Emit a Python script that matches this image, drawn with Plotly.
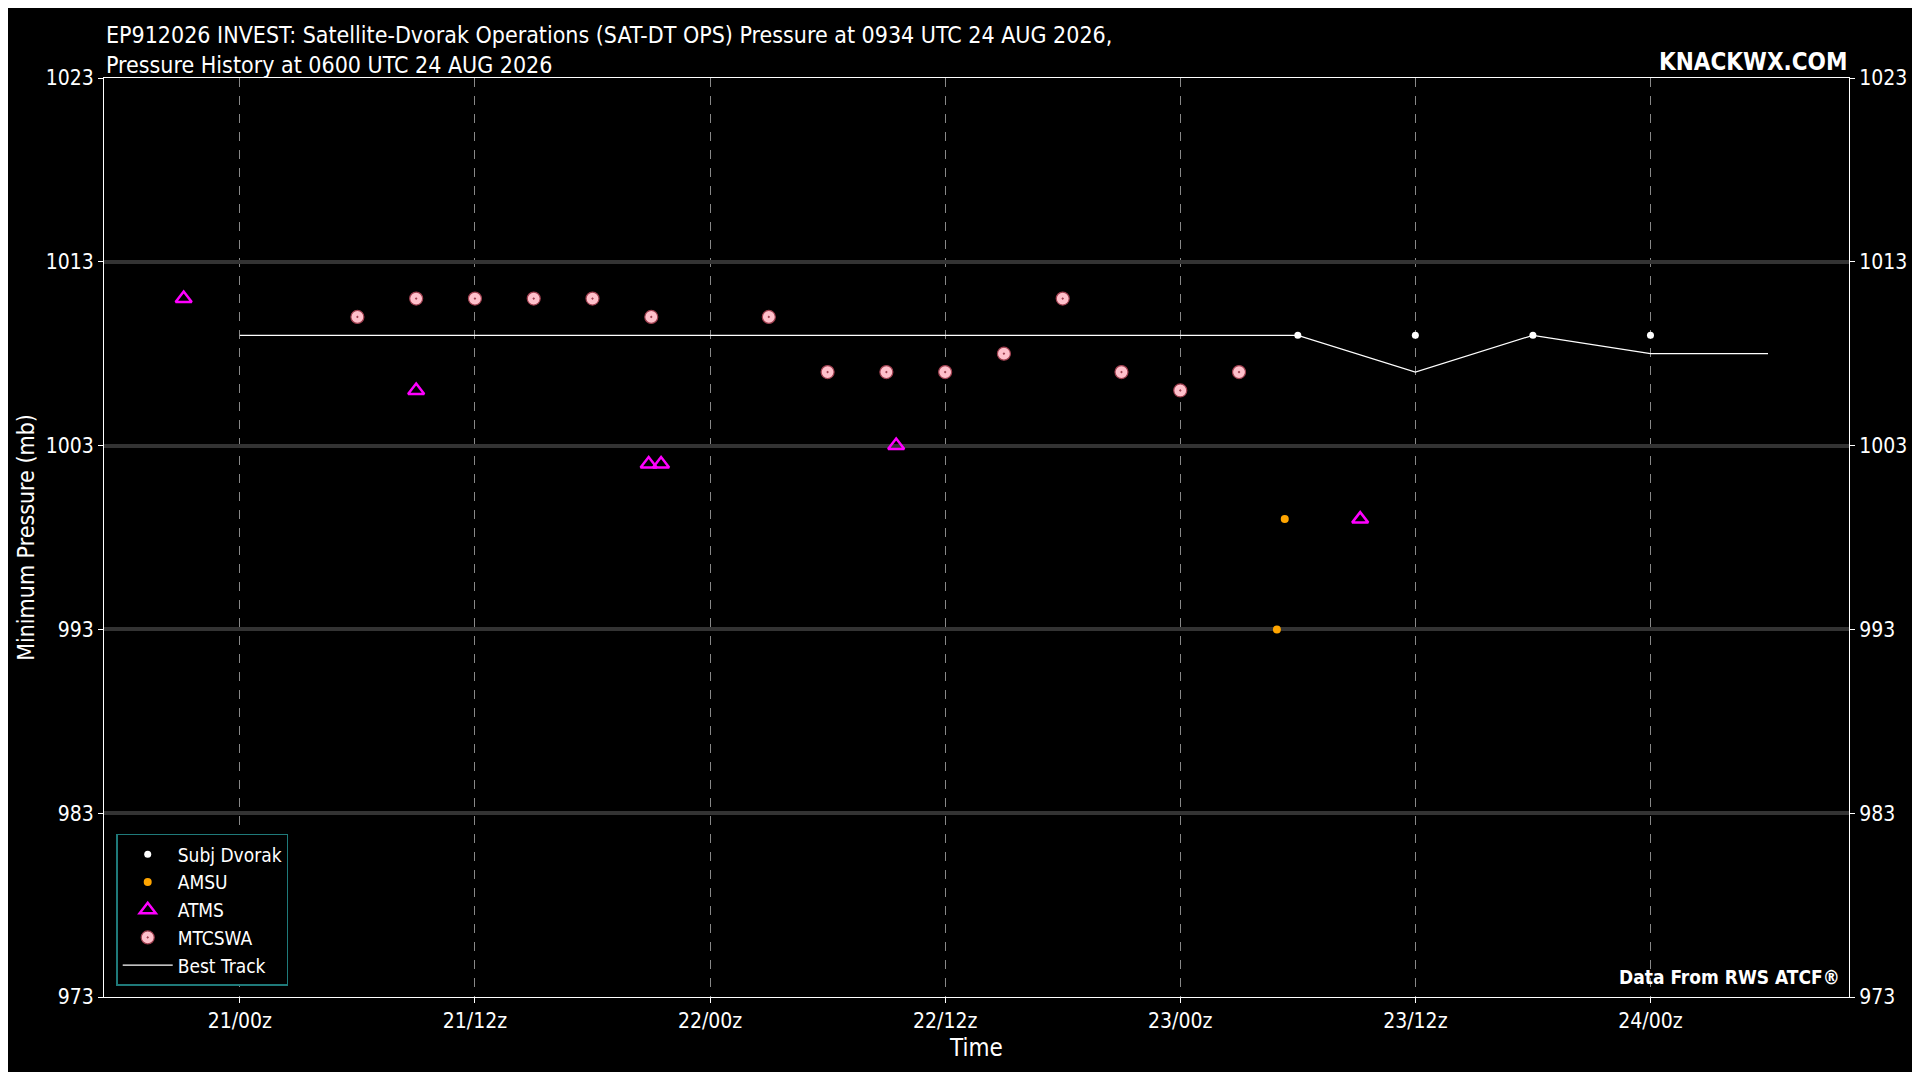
import plotly.graph_objects as go

bt_time = ["2026-08-21 00:00", "2026-08-21 06:00", "2026-08-21 12:00", "2026-08-21 18:00",
           "2026-08-22 00:00", "2026-08-22 06:00", "2026-08-22 12:00", "2026-08-22 18:00",
           "2026-08-23 00:00", "2026-08-23 06:00", "2026-08-23 12:00", "2026-08-23 18:00",
           "2026-08-24 00:00", "2026-08-24 06:00"]
bt_pres = [1009, 1009, 1009, 1009, 1009, 1009, 1009, 1009, 1009, 1009, 1007, 1009, 1008, 1008]

dv_time = ["2026-08-23 06:00", "2026-08-23 12:00", "2026-08-23 18:00", "2026-08-24 00:00"]
dv_pres = [1009, 1009, 1009, 1009]

amsu_time = ["2026-08-23 05:20", "2026-08-23 04:56"]
amsu_pres = [999, 993]

atms_time = ["2026-08-20 21:08", "2026-08-21 09:00", "2026-08-21 20:52", "2026-08-21 21:30",
             "2026-08-22 09:30", "2026-08-23 09:11"]
atms_pres = [1011, 1006, 1002, 1002, 1003, 999]

mtc_time = ["2026-08-21 06:00", "2026-08-21 09:00", "2026-08-21 12:00", "2026-08-21 15:00",
            "2026-08-21 18:00", "2026-08-21 21:00", "2026-08-22 03:00", "2026-08-22 06:00",
            "2026-08-22 09:00", "2026-08-22 12:00", "2026-08-22 15:00", "2026-08-22 18:00",
            "2026-08-22 21:00", "2026-08-23 00:00", "2026-08-23 03:00"]
mtc_pres = [1010, 1011, 1011, 1011, 1011, 1010, 1010, 1007, 1007, 1007, 1008, 1011, 1007, 1006, 1007]

tick_vals = ["2026-08-21 00:00", "2026-08-21 12:00", "2026-08-22 00:00", "2026-08-22 12:00",
             "2026-08-23 00:00", "2026-08-23 12:00", "2026-08-24 00:00"]
tick_text = ["21/00z", "21/12z", "22/00z", "22/12z", "23/00z", "23/12z", "24/00z"]
y_ticks = [973, 983, 993, 1003, 1013, 1023]

FONT = "DejaVu Sans Condensed, Liberation Sans Narrow, sans-serif"

fig = go.Figure()
fig.add_trace(go.Scatter(x=dv_time, y=dv_pres, mode="markers", name="Subj Dvorak",
                         marker=dict(color="white", size=7)))
fig.add_trace(go.Scatter(x=amsu_time, y=amsu_pres, mode="markers", name="AMSU",
                         marker=dict(color="orange", size=8)))
fig.add_trace(go.Scatter(x=atms_time, y=atms_pres, mode="markers", name="ATMS",
                         marker=dict(symbol="triangle-up-open", color="magenta", size=14,
                                     line=dict(width=2.5))))
fig.add_trace(go.Scatter(x=mtc_time, y=mtc_pres, mode="markers", name="MTCSWA",
                         marker=dict(symbol="circle-dot", color="pink", size=13,
                                     line=dict(color="#a04050", width=1.2))))
fig.add_trace(go.Scatter(x=bt_time, y=bt_pres, mode="lines", name="Best Track",
                         line=dict(color="white", width=1.2)))
fig.add_trace(go.Scatter(x=[bt_time[0]], y=[bt_pres[0]], yaxis="y2", mode="markers",
                         marker=dict(opacity=0), showlegend=False, hoverinfo="skip"))

fig.update_layout(
    width=1904, height=1064,
    paper_bgcolor="black", plot_bgcolor="black",
    font=dict(family=FONT, color="white", size=20),
    margin=dict(l=96, r=63, t=70, b=75, autoexpand=False),
    xaxis=dict(range=["2026-08-20 17:04", "2026-08-24 10:08"], tickvals=tick_vals, ticktext=tick_text,
               showgrid=True, gridcolor="#888", griddash="dash", gridwidth=1, automargin=False,
               showline=True, linecolor="white", mirror=True, ticks="outside", tickcolor="white",
               title=dict(text="Time", font=dict(size=24), standoff=6), zeroline=False,
               tickfont=dict(size=21)),
    yaxis=dict(range=[973, 1023], tickvals=y_ticks, showgrid=True, gridcolor="#333", gridwidth=4,
               showline=True, linecolor="white", mirror="allticks", ticks="outside", tickcolor="white",
               title=dict(text="Minimum Pressure (mb)", font=dict(size=23), standoff=4), zeroline=False,
               tickfont=dict(size=21), automargin=False),
    yaxis2=dict(range=[973, 1023], tickvals=y_ticks, overlaying="y", side="right", automargin=False,
                showgrid=False, tickfont=dict(size=21), ticks="outside", tickcolor="white"),
    legend=dict(x=0.007, y=0.012, xanchor="left", yanchor="bottom", bgcolor="black",
                bordercolor="#1f7a7a", borderwidth=1.5, font=dict(size=19), itemwidth=50,
                tracegroupgap=8),
    showlegend=True,
)
fig.add_annotation(text="EP912026 INVEST: Satellite-Dvorak Operations (SAT-DT OPS) Pressure at 0934 UTC 24 AUG 2026,<br>"
                        "Pressure History at 0600 UTC 24 AUG 2026",
                   x=0, y=1, xref="paper", yref="paper", xanchor="left", yanchor="bottom",
                   align="left", showarrow=False, font=dict(size=23), yshift=-2)
fig.add_annotation(text="<b>KNACKWX.COM</b>", x=1, y=1, xref="paper", yref="paper",
                   xanchor="right", yanchor="bottom", showarrow=False, font=dict(size=24))
fig.add_annotation(text="<b>Data From RWS ATCF®</b>", x=0.996, y=0.008, xref="paper", yref="paper",
                   xanchor="right", yanchor="bottom", showarrow=False, font=dict(size=19))
fig.write_html("out.html")
